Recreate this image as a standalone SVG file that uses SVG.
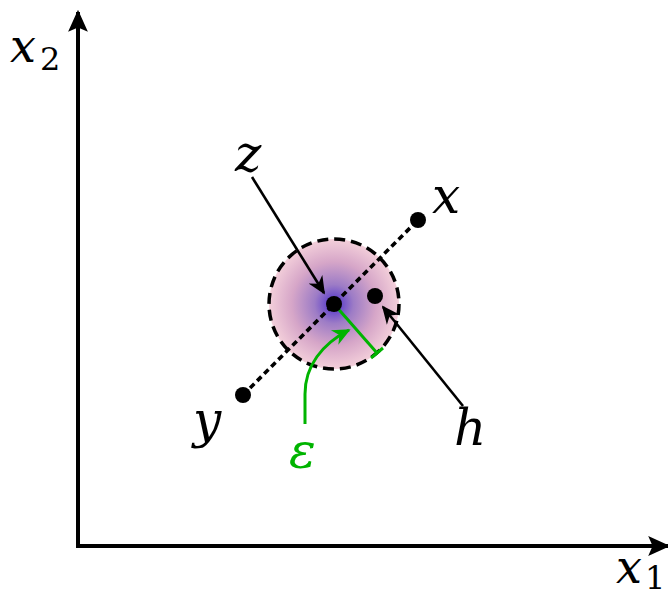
<svg xmlns="http://www.w3.org/2000/svg" width="668" height="596" viewBox="0 0 668 596">
<style>
text{font-family:'DejaVu Serif','Liberation Serif',serif}
.lbl{font-style:italic;fill:#000}
.sub{font-style:normal;fill:#000}
.ax{stroke:#000;stroke-width:4;fill:none}
.ptr{stroke:#000;stroke-width:2.6;fill:none}
.dot{fill:#000}
</style>
<defs>
<radialGradient id="blob" cx="0.5" cy="0.5" r="0.5">
<stop offset="0" stop-color="#4a2ecc"/>
<stop offset="0.3" stop-color="#9d7cc6"/>
<stop offset="0.65" stop-color="#d6a6c8"/>
<stop offset="1" stop-color="#f3cfda"/>
</radialGradient>
<marker id="ahp" viewBox="0 0 10 10" refX="9" refY="5" markerWidth="18" markerHeight="18" markerUnits="userSpaceOnUse" orient="auto">
<path d="M0,0.5 L10,5 L0,9.5 L3,5 Z" fill="#000"/>
</marker>
<marker id="ahg" viewBox="0 0 10 10" refX="9" refY="5" markerWidth="18" markerHeight="18" markerUnits="userSpaceOnUse" orient="auto">
<path d="M0,0.5 L10,5 L0,9.5 L3,5 Z" fill="#00b400"/>
</marker>
<marker id="ahx" viewBox="0 0 10 10" refX="9" refY="5" markerWidth="22" markerHeight="22" markerUnits="userSpaceOnUse" orient="auto">
<path d="M0,0.5 L10,5 L0,9.5 L2,5 Z" fill="#000"/>
</marker>
</defs>
<g id="axes">
<line class="ax" x1="78" y1="548" x2="78" y2="12" marker-end="url(#ahx)"/>
<line class="ax" x1="76" y1="546" x2="668" y2="546" marker-end="url(#ahx)"/>
</g>
<g id="region">
<circle cx="334" cy="304" r="65" fill="url(#blob)" stroke="#000" stroke-width="3.5" stroke-dasharray="11,6"/>
</g>
<g id="connectors">
<line x1="243" y1="395" x2="418" y2="220" stroke="#000" stroke-width="3.6" stroke-dasharray="6,4"/>
<line class="ptr" x1="252" y1="177" x2="324" y2="293" marker-end="url(#ahp)"/>
<line class="ptr" x1="463" y1="406" x2="383" y2="307" marker-end="url(#ahp)"/>
<line x1="334" y1="304" x2="377" y2="353" stroke="#00b400" stroke-width="3"/>
<line x1="371" y1="358" x2="383" y2="348" stroke="#00b400" stroke-width="3"/>
<path d="M305,424 L305,394 C305,366 322,344 349,330" fill="none" stroke="#00b400" stroke-width="3" marker-end="url(#ahg)"/>
</g>
<g id="z"><circle class="dot" cx="334" cy="304" r="8"/><text class="lbl" x="235" y="171" font-size="50">z</text></g>
<g id="h"><circle class="dot" cx="375" cy="296" r="8"/><text class="lbl" x="454" y="445" font-size="50">h</text></g>
<g id="x"><circle class="dot" cx="418" cy="220" r="8"/><text class="lbl" x="432" y="213" font-size="50">x</text></g>
<g id="y"><circle class="dot" cx="243" cy="395" r="8"/><text class="lbl" x="193" y="437" font-size="50">y</text></g>
<g id="eps"><text class="lbl" x="289" y="468" font-size="50" style="fill:#00b400">ε</text></g>
<g id="x2"><text class="lbl" x="10" y="62" font-size="46">x</text><text class="sub" x="40" y="70" font-size="32">2</text></g>
<g id="x1"><text class="lbl" x="616" y="583" font-size="46">x</text><text class="sub" x="645" y="589" font-size="32">1</text></g>
</svg>
